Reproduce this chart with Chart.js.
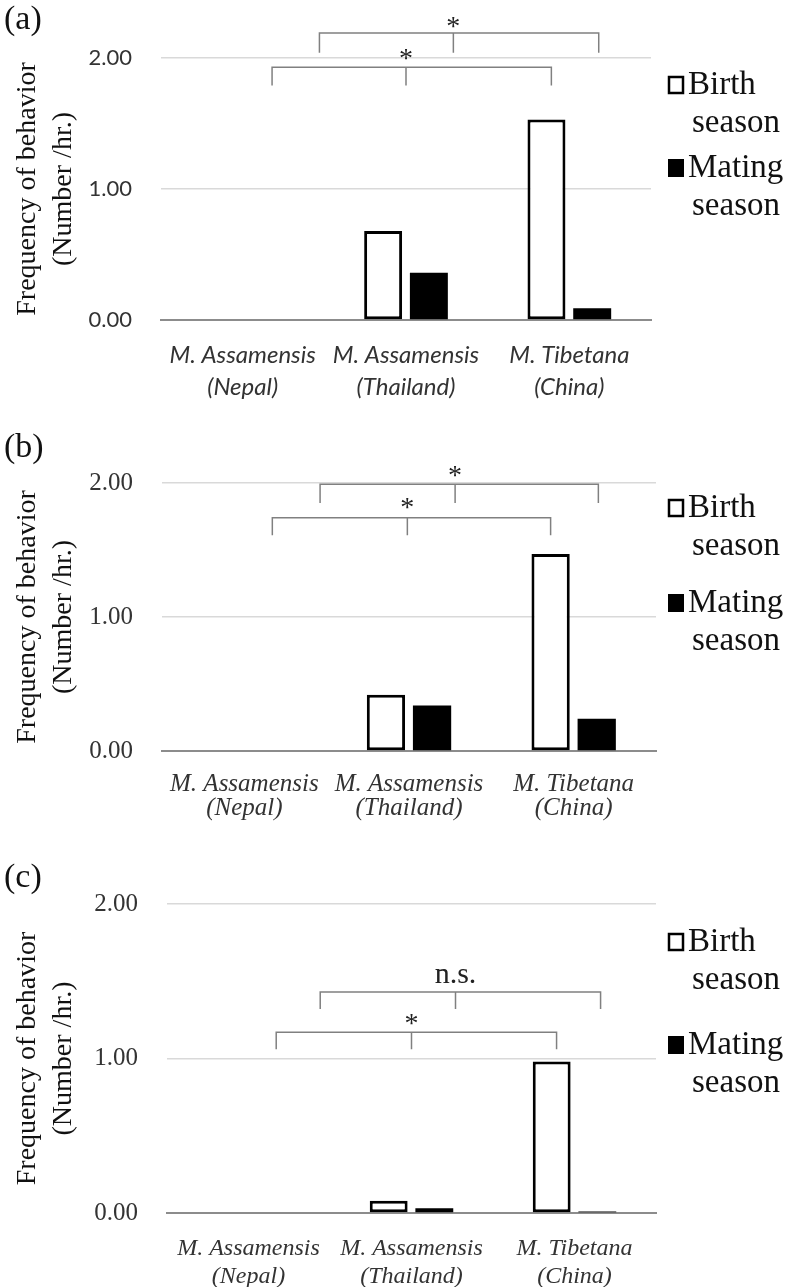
<!DOCTYPE html>
<html>
<head>
<meta charset="utf-8">
<script src="https://cdn.jsdelivr.net/npm/chart.js@4.4.1/dist/chart.umd.min.js"></script>
<style>
body { margin: 0; background: #fff; }
canvas { position: absolute; left: 0; }
</style>
</head>
<body>
<canvas id="chartA" width="795" height="430" style="top:0px"></canvas>
<canvas id="chartB" width="795" height="430" style="top:430px"></canvas>
<canvas id="chartC" width="795" height="427" style="top:860px"></canvas>
<script>
// categories and series
const categories = [['M. Assamensis', '(Nepal)'], ['M. Assamensis', '(Thailand)'], ['M. Tibetana', '(China)']];
const seriesNames = ['Birth season', 'Mating season'];
const yTickValues = [0, 1, 2];

// (a)
const birthA = [null, 0.68, 1.53];
const matingA = [null, 0.36, 0.09];
// (b)
const birthB = [null, 0.42, 1.47];
const matingB = [null, 0.34, 0.24];
// (c)
const birthC = [null, 0.08, 0.98];
const matingC = [null, 0.03, 0.01];

// significance brackets, in category index / value units
const bracketsA = [
    { from: 0.47, mid: 1.29, to: 2.18, top: 2.19, foot: 2.04, text: '*', textY: 2.235 },
    { from: 0.18, mid: 1.00, to: 1.89, top: 1.93, foot: 1.79, text: '*', textY: 1.985 }
];
const bracketsB = [
    { from: 0.46, mid: 1.28, to: 2.15, top: 1.99, foot: 1.85, text: '*', textY: 2.05 },
    { from: 0.17, mid: 0.99, to: 1.86, top: 1.74, foot: 1.61, text: '*', textY: 1.81 }
];
const bracketsC = [
    { from: 0.44, mid: 1.27, to: 2.16, top: 1.43, foot: 1.32, text: 'n.s.', textY: 1.54 },
    { from: 0.17, mid: 1.00, to: 1.89, top: 1.17, foot: 1.06, text: '*', textY: 1.22 }
];

Chart.defaults.animation = false;
Chart.defaults.color = '#333';

const SERIF = "'Liberation Serif', 'Times New Roman', serif";
const SANS = "Lato, 'Open Sans', sans-serif";

const extras = {
    id: 'extras',
    afterDraw(chart, args, o) {
        const { ctx } = chart;
        const x = chart.scales.x, y = chart.scales.y;
        ctx.save();
        // brackets
        o.brackets.forEach(b => {
            const x1 = x.getPixelForValue(b.from);
            const x2 = x.getPixelForValue(b.to);
            const xm = x.getPixelForValue(b.mid);
            const yt = y.getPixelForValue(b.top);
            const yf = y.getPixelForValue(b.foot);
            ctx.strokeStyle = '#808080';
            ctx.lineWidth = 1.5;
            ctx.beginPath();
            ctx.moveTo(x1, yf); ctx.lineTo(x1, yt); ctx.lineTo(x2, yt); ctx.lineTo(x2, yf);
            ctx.moveTo(xm, yt); ctx.lineTo(xm, yf);
            ctx.stroke();
            ctx.fillStyle = '#222';
            ctx.textAlign = 'center';
            ctx.textBaseline = 'middle';
            ctx.font = (b.text === '*' ? '28px ' : '30px ') + SERIF;
            ctx.fillText(b.text, xm, y.getPixelForValue(b.textY));
        });
        // legend
        ctx.font = '33px ' + SERIF;
        ctx.textAlign = 'left';
        ctx.textBaseline = 'middle';
        chart.data.datasets.forEach((ds, i) => {
            const ry = o.legendY[i];
            if (ds.backgroundColor === '#ffffff') {
                ctx.lineWidth = 2.5;
                ctx.strokeStyle = '#000';
                ctx.strokeRect(669, ry - 8, 14, 16);
            } else {
                ctx.fillStyle = '#000';
                ctx.fillRect(668, ry - 9, 16, 18);
            }
            ctx.fillStyle = '#111';
            ds.label.split(' ').forEach((w, k) => {
                ctx.fillText(w, k === 0 ? 688 : 692, ry + k * 38);
            });
        });
        // panel tag
        ctx.font = '34px ' + SERIF;
        ctx.fillStyle = '#111';
        ctx.fillText(o.tag, 4, o.tagY);
        ctx.restore();
    }
};

const makeChart = (id, birth, mating, brackets, p) => {
    const ctx = document.getElementById(id).getContext('2d');
    return new Chart(ctx, {
        type: 'bar',
        data: {
            labels: categories,
            datasets: [{
                label: seriesNames[0],
                data: birth,
                backgroundColor: '#ffffff',
                borderColor: '#000',
                borderWidth: 3,
                borderSkipped: false,
                categoryPercentage: 0.56,
                barPercentage: 0.83
            }, {
                label: seriesNames[1],
                data: mating,
                backgroundColor: '#000',
                borderWidth: 0,
                categoryPercentage: 0.56,
                barPercentage: 0.83
            }]
        },
        options: {
            responsive: false,
            layout: { padding: { top: p.top, right: 795 - p.right, left: 0, bottom: 0 } },
            plugins: {
                legend: { display: false },
                tooltip: { enabled: false },
                extras: { brackets: brackets, legendY: p.legendY, tag: p.tag, tagY: p.tagY }
            },
            scales: {
                x: {
                    grid: { display: false },
                    border: { display: true, color: '#8c8c8c', width: 2 },
                    ticks: {
                        padding: p.xPad,
                        color: '#333',
                        font: { family: p.xFont, size: p.xSize, style: 'italic', lineHeight: p.xLine / p.xSize }
                    },
                    afterFit: s => { s.height = p.h - p.bottom; }
                },
                y: {
                    min: 0,
                    max: 2,
                    afterBuildTicks: s => { s.ticks = yTickValues.map(v => ({ value: v })); },
                    grid: {
                        drawTicks: false,
                        lineWidth: 1.5,
                        color: c => c.tick && c.tick.value === 0 ? '#8c8c8c' : '#d9d9d9'
                    },
                    border: { display: false },
                    ticks: {
                        padding: p.yPad,
                        color: '#333',
                        font: { family: p.yFont, size: p.ySize },
                        callback: v => v.toFixed(2)
                    },
                    title: {
                        display: true,
                        text: ['Frequency of behavior', '(Number /hr.)'],
                        color: '#111',
                        padding: { top: 9, bottom: 0 },
                        font: { family: SERIF, size: 28, lineHeight: 1.3 }
                    },
                    afterFit: s => { s.width = p.left; }
                }
            }
        },
        plugins: [extras]
    });
};

makeChart('chartA', birthA, matingA, bracketsA, {
    h: 430, left: 161, right: 651, top: 58, bottom: 320,
    xFont: SANS, xSize: 24, xLine: 32, xPad: 11,
    yFont: SANS, ySize: 22, yPad: 29,
    legendY: [85, 168], tag: '(a)', tagY: 20
});
makeChart('chartB', birthB, matingB, bracketsB, {
    h: 430, left: 162, right: 656, top: 53, bottom: 321,
    xFont: SERIF, xSize: 25, xLine: 24, xPad: 13,
    yFont: SERIF, ySize: 25, yPad: 29,
    legendY: [78, 173], tag: '(b)', tagY: 18
});
makeChart('chartC', birthC, matingC, bracketsC, {
    h: 427, left: 167, right: 656, top: 42, bottom: 353,
    xFont: SERIF, xSize: 24, xLine: 28, xPad: 14,
    yFont: SERIF, ySize: 25, yPad: 29,
    legendY: [82, 185], tag: '(c)', tagY: 18
});
</script>
</body>
</html>
